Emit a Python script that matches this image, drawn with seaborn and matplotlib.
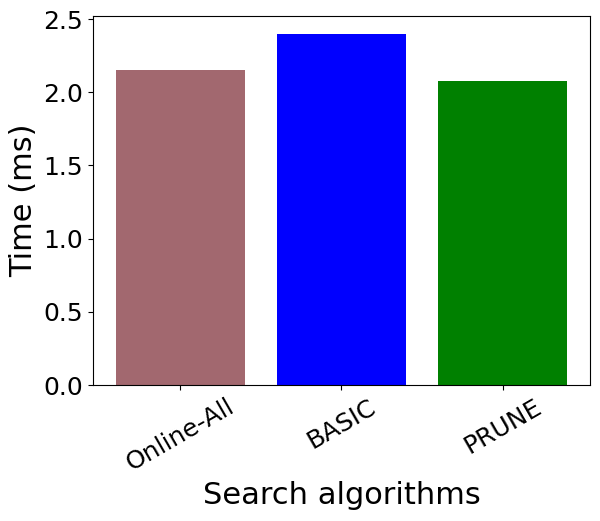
import matplotlib
matplotlib.use("Agg")
import matplotlib.pyplot as plt
import seaborn as sns

algoritmos = ["Online-All", "BASIC", "PRUNE"]
tiempos = [2.154, 2.40, 2.079]
colores = ["#a2686f", "#0000ff", "#008000"]

fig, ax = plt.subplots(figsize=(6, 5.21), dpi=100)

sns.barplot(x=algoritmos, y=tiempos, hue=algoritmos, palette=colores,
            saturation=1, width=0.8, legend=False, ax=ax)

ax.set_xlabel("Search algorithms", fontsize=22)
ax.set_ylabel("Time (ms)", fontsize=22)
ax.tick_params(axis="both", labelsize=18)
plt.setp(ax.get_xticklabels(), rotation=30)
ax.set_xlim(-0.54, 2.54)
ax.set_ylim(0, 2.52)

fig.subplots_adjust(left=0.155, right=0.983, top=0.969, bottom=0.261)
plt.savefig("out.png", dpi=100)
plt.close()
